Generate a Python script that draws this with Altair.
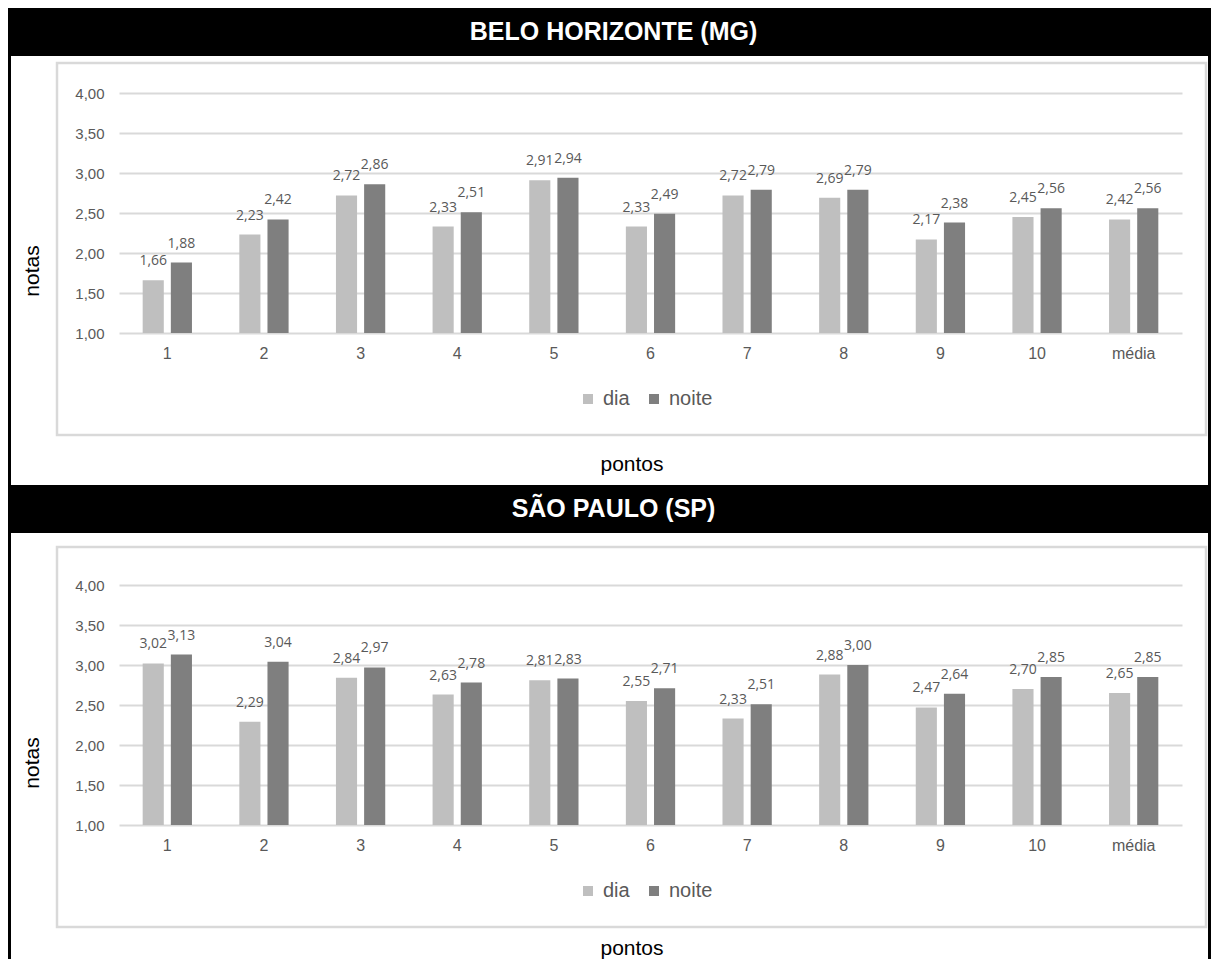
import altair as alt
import pandas as pd

# ---------------- data ----------------
pontos = ["1", "2", "3", "4", "5", "6", "7", "8", "9", "10", "média"]
series = ["dia", "noite"]
bh_dia = [1.66, 2.23, 2.72, 2.33, 2.91, 2.33, 2.72, 2.69, 2.17, 2.45, 2.42]
bh_noite = [1.88, 2.42, 2.86, 2.51, 2.94, 2.49, 2.79, 2.79, 2.38, 2.56, 2.56]
sp_dia = [3.02, 2.29, 2.84, 2.63, 2.81, 2.55, 2.33, 2.88, 2.47, 2.70, 2.65]
sp_noite = [3.13, 3.04, 2.97, 2.78, 2.83, 2.71, 2.51, 3.00, 2.64, 2.85, 2.85]
y_ticks = [1.0, 1.5, 2.0, 2.5, 3.0, 3.5, 4.0]
titles = ["BELO HORIZONTE (MG)", "SÃO PAULO (SP)"]
colors = ["#bfbfbf", "#7f7f7f"]

PLOT_W = 1063
PLOT_H = 240
LABEL_GRAY = "#595959"
GRID_GRAY = "#d9d9d9"


def make_df(dia, noite):
    rows = []
    for p, d, n in zip(pontos, dia, noite):
        rows.append({"ponto": p, "serie": "dia", "nota": d})
        rows.append({"ponto": p, "serie": "noite", "nota": n})
    df = pd.DataFrame(rows)
    df["rotulo"] = df["nota"].map(lambda v: f"{v:.2f}".replace(".", ","))
    return df


def one_row(**kw):
    return pd.DataFrame({k: [v] for k, v in kw.items()})


def panel(df, title, head_top, head_bot, box_top, border_bot, pontos_y):
    x_enc = alt.X(
        "ponto:N",
        sort=pontos,
        scale=alt.Scale(paddingInner=0.49, paddingOuter=0.245),
        axis=alt.Axis(
            title=None, labelAngle=0, domain=False, ticks=False, tickSize=0,
            labelPadding=12, labelFontSize=16, labelColor=LABEL_GRAY,
            labelFont="Liberation Sans", grid=False,
        ),
    )
    xoff = alt.XOffset("serie:N", sort=series,
                       scale=alt.Scale(paddingInner=0.25, paddingOuter=0))
    y_enc = alt.Y(
        "nota:Q",
        scale=alt.Scale(domain=[1, 4], zero=False, nice=False),
        axis=alt.Axis(
            values=y_ticks,
            labelExpr="replace(format(datum.value, '.2f'), '.', ',')",
            title=None, domain=False, ticks=False, tickSize=0,
            labelPadding=15, labelFontSize=15, labelColor=LABEL_GRAY,
            labelFont="Liberation Sans",
            gridColor=GRID_GRAY, gridWidth=2,
        ),
    )

    bars = alt.Chart(df).mark_bar().encode(
        x=x_enc,
        xOffset=xoff,
        y=y_enc,
        y2=alt.datum(1.0),
        color=alt.Color(
            "serie:N",
            sort=series,
            scale=alt.Scale(domain=series, range=colors),
            legend=alt.Legend(
                orient="none", legendX=459, legendY=296, direction="horizontal",
                title=None, symbolType="square", symbolSize=100,
                symbolStrokeWidth=0, labelFontSize=20, labelColor=LABEL_GRAY,
                labelFont="Liberation Sans", columnPadding=14, labelOffset=5,
                padding=0,
            ),
        ),
    )

    labels = alt.Chart(df).mark_text(
        dy=-19, font="Open Sans", fontSize=14, color=LABEL_GRAY, baseline="middle"
    ).encode(x=x_enc, xOffset=xoff, y=y_enc, text="rotulo:N")

    box = alt.Chart(one_row(k="box")).mark_rect(
        fillOpacity=0, stroke=GRID_GRAY, strokeWidth=2.5
    ).encode(x=alt.value(-62), x2=alt.value(1087),
             y=alt.value(box_top), y2=alt.value(342))

    left_border = alt.Chart(one_row(k="l")).mark_rect(color="black").encode(
        x=alt.value(-111), x2=alt.value(-108),
        y=alt.value(head_bot), y2=alt.value(border_bot))
    right_border = alt.Chart(one_row(k="r")).mark_rect(color="black").encode(
        x=alt.value(1089), x2=alt.value(1092),
        y=alt.value(head_bot), y2=alt.value(border_bot))

    header = alt.Chart(one_row(k="h")).mark_rect(color="black").encode(
        x=alt.value(-111), x2=alt.value(1092),
        y=alt.value(head_top), y2=alt.value(head_bot))
    header_text = alt.Chart(one_row(t=title)).mark_text(
        font="Liberation Sans", fontWeight="bold", fontSize=25, color="white",
        align="center", baseline="middle",
    ).encode(x=alt.value(494.5), y=alt.value((head_top + head_bot) / 2), text="t:N")

    notas = alt.Chart(one_row(t="notas")).mark_text(
        font="Liberation Sans", fontSize=21, color="black", angle=270,
        align="center", baseline="middle",
    ).encode(x=alt.value(-86), y=alt.value(178), text="t:N")

    pontos_t = alt.Chart(one_row(t="pontos")).mark_text(
        font="Liberation Sans", fontSize=21, color="black",
        align="center", baseline="middle",
    ).encode(x=alt.value(513), y=alt.value(pontos_y), text="t:N")

    return alt.layer(
        box, left_border, right_border, header, header_text,
        bars, labels, notas, pontos_t
    ).properties(width=PLOT_W, height=PLOT_H)


p1 = panel(make_df(bh_dia, bh_noite), titles[0], -85, -37, -30, 392, 372)
p2 = panel(make_df(sp_dia, sp_noite), titles[1], -100, -52, -38, 374, 364)

chart = (
    alt.vconcat(p1, p2, spacing=252, bounds="flush")
    .resolve_scale(x="independent", y="independent", color="independent")
    .resolve_legend(color="independent")
    .properties(padding=0, background="white")
    .configure_view(stroke=None)
)

chart.save("out.html", embed_options={"renderer": "svg", "actions": False})
